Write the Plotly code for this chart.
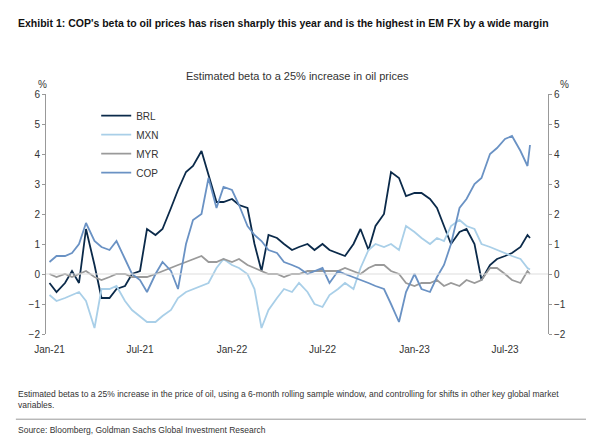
import pandas as pd
import plotly.graph_objects as go

dates = list(pd.date_range("2021-01-01", "2023-08-15", freq="SMS")) + [pd.Timestamp("2023-08-20")]

brl = [-0.3, -0.6, -0.3, 0.1, -0.3, 1.5, 0.3, -0.8, -0.8, -0.5, -0.4, 0.0, 0.1, 1.5, 1.3, 1.5, 2.2, 2.8, 3.4, 3.6, 4.1, 3.3, 2.4, 2.4,
       2.5, 2.3, 2.2, 1.0, 0.1, 1.3, 1.2, 1.0, 0.8, 0.9, 1.0, 0.8, 1.0, 0.8, 0.7, 0.6, 1.0, 1.5, 0.8, 1.6, 2.0, 3.4, 3.2, 2.6,
       2.7, 2.7, 2.5, 2.2, 1.6, 1.0, 1.4, 1.5, 1.0, -0.2, 0.3, 0.5, 0.6, 0.7, 0.9, 1.3, 1.2]
mxn = [-0.7, -0.9, -0.8, -0.7, -0.6, -0.9, -1.8, -0.5, -0.5, -0.4, -0.9, -1.2, -1.4, -1.6, -1.6, -1.4, -1.2, -0.8, -0.6, -0.5, -0.4, -0.3, 0.2, 0.5,
       0.3, 0.2, 0.0, -0.5, -1.8, -1.2, -0.8, -0.5, -0.6, -0.3, -0.6, -1.0, -1.1, -0.7, -0.5, -0.3, -0.5, 0.2, 0.8, 1.0, 0.9, 1.0, 0.8, 1.6,
       1.4, 1.2, 1.0, 1.2, 1.1, 1.6, 1.8, 1.6, 1.5, 1.0, 0.9, 0.8, 0.7, 0.6, 0.5, 0.2, 0.15]
myr = [0.0, -0.1, 0.0, -0.1, 0.0, 0.1, -0.1, -0.2, -0.1, 0.0, 0.0, -0.1, -0.1, -0.1, 0.0, 0.1, 0.2, 0.3, 0.4, 0.5, 0.6, 0.4, 0.4, 0.5,
       0.4, 0.5, 0.3, 0.2, 0.1, 0.0, 0.0, -0.1, 0.0, 0.0, 0.1, 0.1, 0.1, 0.1, 0.1, 0.2, 0.1, 0.0, 0.2, 0.3, 0.3, 0.1, 0.0, -0.3,
       -0.4, -0.3, -0.3, -0.2, -0.4, -0.3, -0.4, -0.2, -0.3, -0.2, 0.2, 0.2, 0.0, -0.2, -0.3, 0.1, 0.0]
cop = [0.4, 0.6, 0.6, 0.7, 1.0, 1.7, 1.1, 0.9, 0.8, 1.1, 0.5, 0.0, -0.2, -0.6, 0.0, 0.4, 0.1, -0.5, 1.0, 1.8, 2.0, 3.2, 2.2, 2.9,
       2.8, 2.3, 1.6, 1.3, 1.1, 0.8, 0.7, 0.4, 0.3, 0.2, 0.0, 0.1, 0.2, -0.3, 0.1, 0.0, -0.1, -0.2, -0.3, -0.4, -0.5, -1.0, -1.6, -0.6,
       0.0, -0.5, -0.6, -0.1, 0.3, 1.0, 2.2, 2.5, 3.0, 3.2, 4.0, 4.2, 4.5, 4.6, 4.1, 3.6, 4.3]

tick_dates = ["2021-01-01", "2021-07-01", "2022-01-01", "2022-07-01", "2023-01-01", "2023-07-01"]
tick_text = ["Jan-21", "Jul-21", "Jan-22", "Jul-22", "Jan-23", "Jul-23"]

series = [("BRL", brl, "#0b2a4a"), ("MXN", mxn, "#a9cfe8"), ("MYR", myr, "#9a9a9a"), ("COP", cop, "#6a92c4")]

fig = go.Figure()
for name, vals, color in series:
    fig.add_trace(go.Scatter(x=dates, y=vals, mode="lines", name=name, line=dict(color=color, width=1.8)))
# invisible trace to carry the right axis
fig.add_trace(go.Scatter(x=dates[:1], y=[0], yaxis="y2", showlegend=False, hoverinfo="skip",
                         mode="markers", marker=dict(opacity=0)))

fnt = dict(family="Liberation Sans, Arial", size=10, color="#333")
axis = dict(range=[-2, 6], dtick=1, showgrid=False, zeroline=False, showline=True, linecolor="#999",
            ticks="outside", ticklen=3, tickcolor="#999", tickfont=fnt)
fig.update_layout(
    width=594, height=435, paper_bgcolor="white", plot_bgcolor="white",
    margin=dict(l=38, r=54, t=86, b=109),
    font=fnt,
    xaxis=dict(range=["2020-12-25", "2023-09-25"], tickvals=tick_dates, ticktext=tick_text,
               showgrid=False, showline=False, zeroline=False, tickfont=fnt, ticklabelstandoff=8),
    yaxis=axis,
    yaxis2=dict(axis, overlaying="y", side="right"),
    legend=dict(x=0.1, y=0.97, bgcolor="rgba(0,0,0,0)", font=dict(size=10, color="#333"),
                tracegroupgap=0, itemwidth=30),
    showlegend=True,
)
fig.add_hline(y=0, line=dict(color="#dddddd", width=1))
fig.add_annotation(text="<b>Exhibit 1: COP's beta to oil prices has risen sharply this year and is the highest in EM FX by a wide margin</b>",
                   xref="paper", yref="paper", x=-0.06, y=1.33, xanchor="left", showarrow=False,
                   font=dict(size=10.5, color="#111"))
fig.add_annotation(text="Estimated beta to a 25% increase in oil prices", xref="paper", yref="paper",
                   x=0.5, y=1.11, showarrow=False, font=dict(size=11, color="#333"))
fig.add_annotation(text="%", xref="paper", yref="paper", x=-0.02, y=1.07, showarrow=False, font=fnt)
fig.add_annotation(text="%", xref="paper", yref="paper", x=1.045, y=1.07, showarrow=False, font=fnt)
fig.add_annotation(text="Estimated betas to a 25% increase in the price of oil, using a 6-month rolling sample window, and controlling for shifts in other key global market<br>variables.",
                   xref="paper", yref="paper", x=-0.06, y=-0.22, xanchor="left", yanchor="top", align="left",
                   showarrow=False, font=dict(size=8.5, color="#333"))
fig.add_annotation(text="Source: Bloomberg, Goldman Sachs Global Investment Research",
                   xref="paper", yref="paper", x=-0.06, y=-0.37, xanchor="left", yanchor="top",
                   showarrow=False, font=dict(size=8.5, color="#333"))
fig.add_shape(type="line", xref="paper", yref="paper", x0=-0.06, x1=1.08, y0=-0.355, y1=-0.355,
              line=dict(color="#999", width=1))

fig.write_html("out.html")
